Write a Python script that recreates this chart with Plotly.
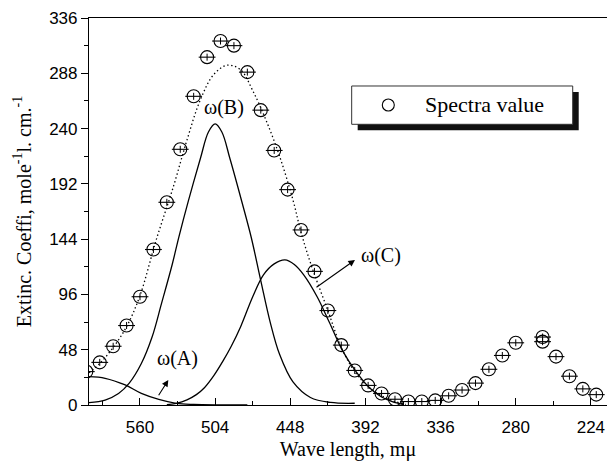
import plotly.graph_objects as go

# Spectra data points (wavelength, extinction)
spec_x = [600, 590, 580, 570, 560, 550, 540, 530, 520, 510, 500, 490, 480, 470, 460,
          450, 440, 430, 420, 410, 400, 390, 380, 370, 360, 350, 340, 330, 320, 310,
          300, 290, 280, 260, 260, 250, 240, 230, 220]
spec_y = [29, 37, 51, 69, 94, 135, 176, 222, 268, 302, 316, 312, 289, 256, 221,
          187, 152, 116, 82, 52, 30, 17, 10, 5, 3, 3, 4, 8, 13, 19,
          31, 43, 54, 59, 55, 42, 25, 14, 9]

# Dotted envelope curve
env_x = [598, 590, 580, 570, 560, 548, 535, 525, 515, 505, 495, 485, 476, 466, 456,
         446, 440, 432, 420, 410, 400, 390, 380, 370, 362]
env_y = [28, 36, 50, 68, 95, 143, 190, 230, 265, 287, 295, 291, 273, 247, 216,
         178, 150, 120, 82, 50, 29, 16, 8, 3, 0.5]

# Component omega(A)
a_x = [598, 586, 571, 559, 546, 533, 520, 500, 480]
a_y = [24.6, 23.2, 17.4, 10.1, 4.9, 1.5, 0.5, 0.1, 0]

# Component omega(B)
b_x = [598, 586, 576, 568, 559, 551, 544, 536, 531, 524, 515, 509, 504, 499, 493,
       484, 477, 470, 463, 456, 446, 433, 418, 400]
b_y = [2, 4.3, 10, 19, 36, 59, 88, 122, 146, 177, 214, 237, 244, 237, 214,
       176, 145, 108, 72, 44, 20, 6.5, 2.2, 1.5]

# Component omega(C)
c_x = [540, 533, 525, 518, 512, 505, 498, 492, 485, 476, 468, 460, 452, 445, 438,
       428, 419, 409, 399, 389, 380, 372, 364]
c_y = [0.3, 1.5, 4.5, 9, 15, 25.5, 38.5, 51, 68, 94, 113, 122.5, 126, 122, 113,
       94, 72, 47, 29, 15, 7, 3, 0.5]

x_ticks = [560, 504, 448, 392, 336, 280, 224]
y_ticks = [0, 48, 96, 144, 192, 240, 288, 336]

SERIF = "Liberation Serif"
SANS = "Liberation Sans"

fig = go.Figure()

line_style = dict(color="black", width=1.3, shape="spline", smoothing=1.0)
fig.add_trace(go.Scatter(x=a_x, y=a_y, mode="lines", line=line_style, showlegend=False))
fig.add_trace(go.Scatter(x=b_x, y=b_y, mode="lines", line=line_style, showlegend=False))
fig.add_trace(go.Scatter(x=c_x, y=c_y, mode="lines", line=line_style, showlegend=False))
fig.add_trace(go.Scatter(x=env_x, y=env_y, mode="lines",
                         line=dict(color="black", width=1.3, dash="1.4px,2.6px", shape="spline", smoothing=1.0),
                         showlegend=False))

# markers: circle with inner horizontal line and short vertical
fig.add_trace(go.Scatter(x=spec_x, y=spec_y, mode="markers",
                         marker=dict(symbol="circle-open", size=13, color="black", line=dict(width=1.1)),
                         showlegend=False))
fig.add_trace(go.Scatter(x=spec_x, y=spec_y, mode="markers",
                         marker=dict(symbol="line-ew-open", size=12, color="black", line=dict(width=1.1)),
                         showlegend=False))
fig.add_trace(go.Scatter(x=spec_x, y=spec_y, mode="markers",
                         marker=dict(symbol="line-ns-open", size=5, color="black", line=dict(width=1)),
                         showlegend=False))

# Labels and arrows
fig.add_annotation(x=497.4, y=258.7, text="ω(B)", showarrow=False,
                   font=dict(family=SERIF, size=20, color="black"))
fig.add_annotation(x=531.7, y=40.8, text="ω(A)", showarrow=False,
                   font=dict(family=SERIF, size=20, color="black"))
fig.add_annotation(x=380.4, y=130.2, text="ω(C)", showarrow=False,
                   font=dict(family=SERIF, size=20, color="black"))
fig.add_annotation(x=538.9, y=21.7, ax=546.8, ay=7.2, axref="x", ayref="y", xref="x", yref="y",
                   text="", showarrow=True, arrowhead=2, arrowsize=1.2, arrowwidth=1.1, arrowcolor="black")
fig.add_annotation(x=399.8, y=125.9, ax=429.6, ay=101.3, axref="x", ayref="y", xref="x", yref="y",
                   text="", showarrow=True, arrowhead=2, arrowsize=1.2, arrowwidth=1.1, arrowcolor="black")

# Legend box with shadow
fig.add_shape(type="rect", xref="paper", yref="paper", x0=0.5187, x1=0.9454, y0=0.7098, y1=0.8088,
              fillcolor="#111111", line=dict(width=0), layer="above")
fig.add_shape(type="rect", xref="paper", yref="paper", x0=0.5071, x1=0.9338, y0=0.7253, y1=0.8243,
              fillcolor="white", line=dict(color="#333333", width=1), layer="above")
fig.add_shape(type="circle", xref="paper", yref="paper", xsizemode="pixel", ysizemode="pixel",
              xanchor=0.5778, yanchor=0.7752, x0=-6, x1=6, y0=-6, y1=6,
              line=dict(color="black", width=1.1), layer="above")
fig.add_annotation(xref="paper", yref="paper", x=0.6454, y=0.7752, xanchor="left", yanchor="middle",
                   text="Spectra value", showarrow=False,
                   font=dict(family=SERIF, size=22, color="black"))

fig.update_layout(
    width=607, height=464,
    margin=dict(l=89, r=0, t=18, b=59),
    paper_bgcolor="white", plot_bgcolor="white",
    showlegend=False,
)
fig.update_xaxes(
    range=[598, 212], tickvals=x_ticks, ticks="inside", ticklen=7, tickwidth=1, tickcolor="black",
    minor=dict(dtick=28, tick0=224, ticks="inside", ticklen=4, tickcolor="black"),
    showline=True, linecolor="black", linewidth=1.2, mirror=True,
    showgrid=False, zeroline=False,
    tickfont=dict(family=SANS, size=17, color="black"), ticklabelstandoff=6,
    title=dict(text="Wave length, mμ", font=dict(family=SERIF, size=20, color="black"), standoff=6),
)
fig.update_yaxes(
    range=[0, 336], tickvals=y_ticks, ticks="outside", ticklen=7, tickwidth=1, tickcolor="black",
    minor=dict(dtick=24, tick0=0, ticks="outside", ticklen=4, tickcolor="black"),
    showline=True, linecolor="black", linewidth=1.2,
    showgrid=False, zeroline=False,
    tickfont=dict(family=SANS, size=17, color="black"),
    title=dict(text="Extinc. Coeffi, mole<sup>-1</sup>l. cm.<sup>-1</sup>",
               font=dict(family=SERIF, size=20, color="black"), standoff=12),
)

fig.write_html("out.html")
